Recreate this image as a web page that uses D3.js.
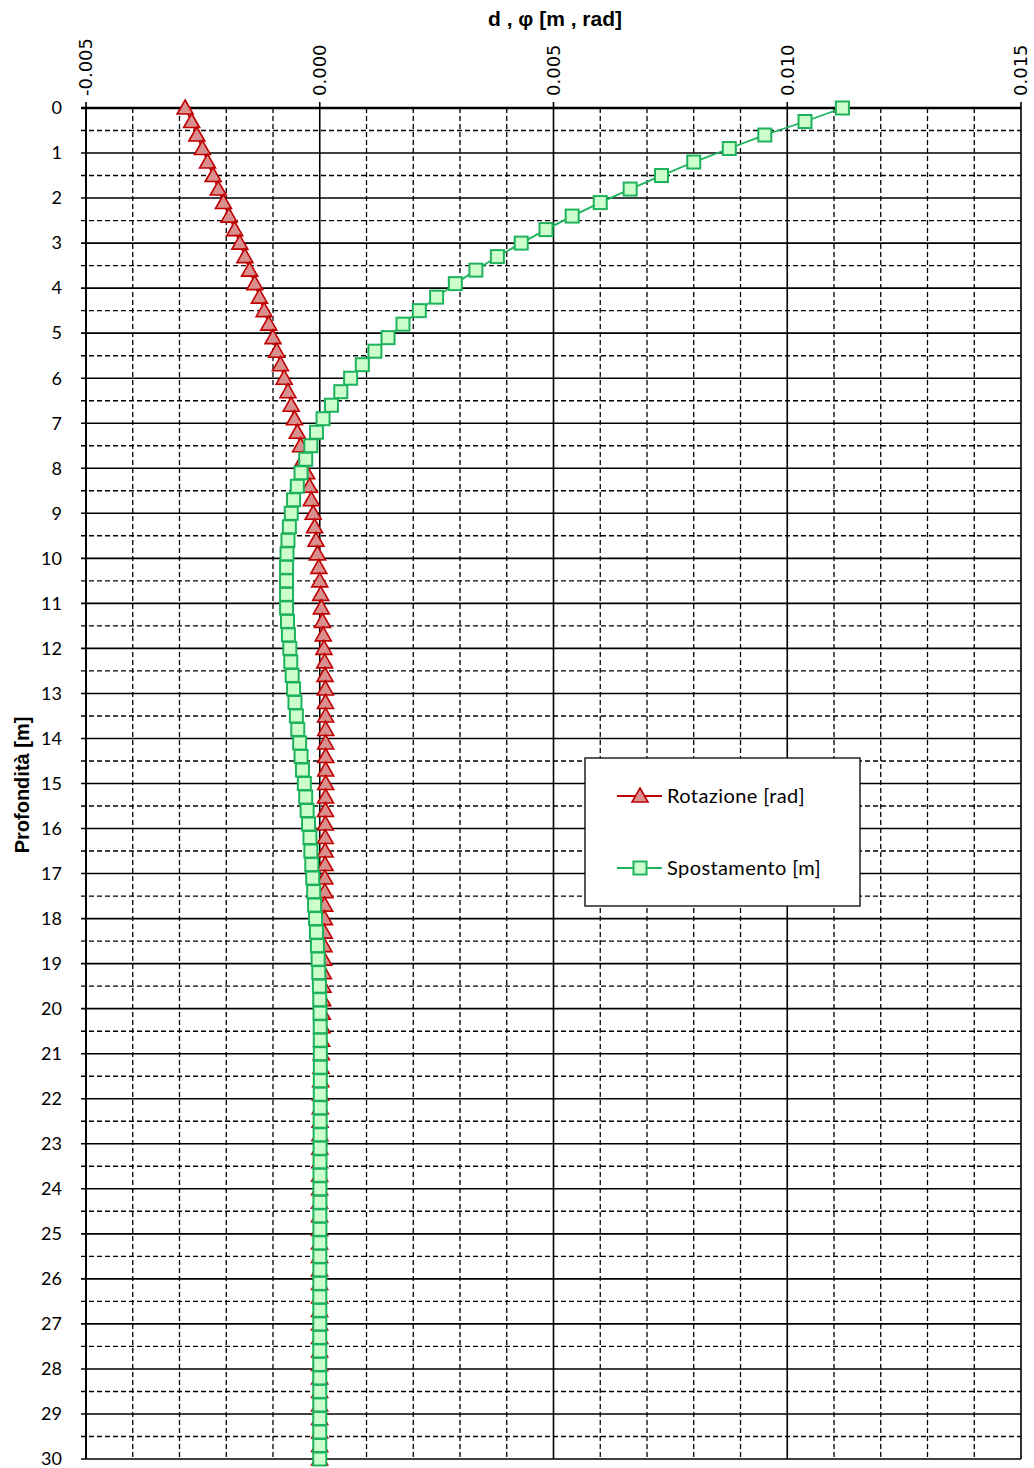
<!DOCTYPE html>
<html>
<head>
<meta charset="utf-8">
<script src="https://cdn.jsdelivr.net/npm/d3@7"></script>
<style>
  body { margin: 0; background: #fff; }
</style>
</head>
<body>
<script>
// profondità [m], un punto ogni 0.3 m
var profondita = [0, 0.3, 0.6, 0.9, 1.2, 1.5, 1.8, 2.1, 2.4, 2.7,
  3.0, 3.3, 3.6, 3.9, 4.2, 4.5, 4.8, 5.1, 5.4, 5.7,
  6.0, 6.3, 6.6, 6.9, 7.2, 7.5, 7.8, 8.1, 8.4, 8.7,
  9.0, 9.3, 9.6, 9.9, 10.2, 10.5, 10.8, 11.1, 11.4, 11.7,
  12.0, 12.3, 12.6, 12.9, 13.2, 13.5, 13.8, 14.1, 14.4, 14.7,
  15.0, 15.3, 15.6, 15.9, 16.2, 16.5, 16.8, 17.1, 17.4, 17.7,
  18.0, 18.3, 18.6, 18.9, 19.2, 19.5, 19.8, 20.1, 20.4, 20.7,
  21.0, 21.3, 21.6, 21.9, 22.2, 22.5, 22.8, 23.1, 23.4, 23.7,
  24.0, 24.3, 24.6, 24.9, 25.2, 25.5, 25.8, 26.1, 26.4, 26.7,
  27.0, 27.3, 27.6, 27.9, 28.2, 28.5, 28.8, 29.1, 29.4, 29.7, 30.0];

// Rotazione [rad]
var rotazione = [-0.00288, -0.00274, -0.00263, -0.00251, -0.00240, -0.00228, -0.00217, -0.00206, -0.00194, -0.00182,
  -0.00171, -0.00160, -0.00150, -0.00139, -0.00129, -0.00119, -0.00109, -0.00100, -0.00092, -0.00084,
  -0.00076, -0.00068, -0.00061, -0.00054, -0.00048, -0.00041, -0.00035, -0.00028, -0.00022, -0.00018,
  -0.00014, -0.00011, -0.00008, -0.00005, -0.00002, 0.00000, 0.00002, 0.000035, 0.00006, 0.000075,
  0.00009, 0.000105, 0.000113, 0.00012, 0.000122, 0.000125, 0.000127, 0.000127, 0.000127, 0.000127,
  0.000126, 0.000124, 0.000122, 0.00012, 0.000117, 0.000115, 0.000113, 0.00011, 0.000108, 0.000105,
  0.0001, 0.000095, 0.00009, 0.000085, 0.000078, 0.00007, 0.000062, 0.000055, 0.000047, 0.00004,
  0.000033, 0.000027, 0.000021, 0.000016, 0.000011, 0.000007, 0.000004, 0.000001, -0.000001, -0.000002,
  -0.000003, -0.000003, -0.000004, -0.000004, -0.000004, -0.000004, -0.000004, -0.000003, -0.000003, -0.000003,
  -0.000003, -0.000002, -0.000002, -0.000002, -0.000002, -0.000002, -0.000002, -0.000002, -0.000002, -0.000002, -0.000002];

// Spostamento [m]
var spostamento = [0.01118, 0.01038, 0.00952, 0.00876, 0.00800, 0.00731, 0.00664, 0.00600, 0.00540, 0.00484,
  0.00431, 0.00380, 0.00334, 0.00290, 0.00250, 0.00213, 0.00178, 0.00146, 0.00118, 0.00091,
  0.00066, 0.00045, 0.00025, 0.00007, -0.00007, -0.00019, -0.00030, -0.00040, -0.00048, -0.00056,
  -0.00061, -0.00065, -0.00068, -0.00070, -0.00071, -0.00071, -0.00071, -0.00071, -0.00069, -0.00067,
  -0.00064, -0.00062, -0.00059, -0.00056, -0.00053, -0.00050, -0.00047, -0.00043, -0.00040, -0.00037,
  -0.00033, -0.00030, -0.00027, -0.00024, -0.00021, -0.00019, -0.00017, -0.00015, -0.00013, -0.00011,
  -0.00009, -0.00007, -0.00005, -0.000035, -0.00002, -0.000008, 0.0, 0.000006, 0.00001, 0.000012,
  0.000013, 0.000013, 0.000012, 0.000011, 0.00001, 0.000009, 0.000008, 0.000007, 0.000006, 0.000005,
  0.000004, 0.000004, 0.000003, 0.000003, 0.000002, 0.000002, 0.000002, 0.000001, 0.000001, 0.000001,
  0.000001, 0, 0, 0, 0, 0, 0, 0, 0, 0, 0];

var ticksX = [-0.005, 0, 0.005, 0.010, 0.015];
var etichetteX = ["-0.005", "0.000", "0.005", "0.010", "0.015"];
var ticksY = [0, 1, 2, 3, 4, 5, 6, 7, 8, 9, 10, 11, 12, 13, 14, 15, 16, 17, 18, 19, 20,
  21, 22, 23, 24, 25, 26, 27, 28, 29, 30];

var serie = [
  { nome: "Rotazione [rad]", valori: rotazione, linea: "#c00000", riempimento: "#da8f8f", simbolo: "triangolo" },
  { nome: "Spostamento [m]", valori: spostamento, linea: "#1db35c", riempimento: "#ccffcc", simbolo: "quadrato" }
];

var width = 1034;
var height = 1468;

var margen = { arriba: 108, abajo: 9, izquierda: 86, derecha: 13 };

var escalaX = d3.scaleLinear()
  .domain([-0.005, 0.015])
  .range([margen.izquierda, width - margen.derecha]);

var escalaY = d3.scaleLinear()
  .domain([0, 30])
  .range([margen.arriba, height - margen.abajo]);

var svg = d3.select("body")
  .append("svg")
  .attr("width", width)
  .attr("height", height);

// griglia verticale: tratteggiata ogni 0.001, continua ogni 0.005
var lineeX = escalaX.ticks(20);
svg.append("g")
  .selectAll("line")
  .data(lineeX)
  .join("line")
  .attr("x1", d => escalaX(d))
  .attr("x2", d => escalaX(d))
  .attr("y1", (d, i) => i % 5 === 0 ? escalaY(0) - 6 : escalaY(0))
  .attr("y2", escalaY(30))
  .attr("stroke", "#000")
  .attr("stroke-width", (d, i) => i % 5 === 0 ? 1.6 : 1.3)
  .attr("stroke-dasharray", (d, i) => i % 5 === 0 ? null : "5,3");

// griglia orizzontale: continua ogni metro, tratteggiata a metà
var lineeY = escalaY.ticks(60);
svg.append("g")
  .selectAll("line")
  .data(lineeY)
  .join("line")
  .attr("x1", margen.izquierda - 5)
  .attr("x2", width - margen.derecha)
  .attr("y1", d => escalaY(d))
  .attr("y2", d => escalaY(d))
  .attr("stroke", "#000")
  .attr("stroke-width", d => d === 0 ? 2.4 : (d % 1 === 0 ? 1.6 : 1.4))
  .attr("stroke-dasharray", d => d % 1 === 0 ? null : "5,3");

// asse sinistro
svg.append("line")
  .attr("x1", margen.izquierda).attr("x2", margen.izquierda)
  .attr("y1", escalaY(0)).attr("y2", escalaY(30))
  .attr("stroke", "#000").attr("stroke-width", 1.8);

// etichette asse X (ruotate)
svg.append("g")
  .selectAll("text")
  .data(ticksX)
  .join("text")
  .attr("transform", d => "translate(" + escalaX(d) + "," + (escalaY(0) - 12) + ") rotate(-90)")
  .attr("dy", "0.36em")
  .attr("text-anchor", "start")
  .style("font-family", "'DejaVu Sans', Verdana, sans-serif")
  .style("font-size", "18px")
  .text((d, i) => etichetteX[i]);

// etichette asse Y
svg.append("g")
  .selectAll("text")
  .data(ticksY)
  .join("text")
  .attr("x", 62)
  .attr("y", d => escalaY(d))
  .attr("dy", "0.35em")
  .attr("text-anchor", "end")
  .style("font-family", "Lato, 'Open Sans', sans-serif")
  .style("font-size", "18px")
  .text(d => d);

// titoli
svg.append("text")
  .attr("x", 555)
  .attr("y", 26)
  .attr("text-anchor", "middle")
  .style("font-family", "'Liberation Sans', Arial, sans-serif")
  .style("font-weight", "bold")
  .style("font-size", "21px")
  .text("d , φ [m , rad]");

svg.append("text")
  .attr("transform", "translate(29,785) rotate(-90)")
  .attr("text-anchor", "middle")
  .style("font-family", "'Liberation Sans', Arial, sans-serif")
  .style("font-weight", "bold")
  .style("font-size", "20px")
  .text("Profondità [m]");

var linea = d3.line()
  .x(d => escalaX(d.v))
  .y(d => escalaY(d.z));

function pintarMarcador(sel, s) {
  if (s.simbolo === "triangolo") {
    sel.append("path")
      .attr("d", "M0,-8L8,6L-8,6Z")
      .attr("fill", s.riempimento)
      .attr("stroke", s.linea)
      .attr("stroke-width", 1.6);
  } else {
    sel.append("rect")
      .attr("x", -6.5).attr("y", -6.5)
      .attr("width", 13).attr("height", 13)
      .attr("fill", s.riempimento)
      .attr("stroke", s.linea)
      .attr("stroke-width", 2);
  }
}

serie.forEach(function (s) {
  var punti = profondita.map((z, i) => ({ z: z, v: s.valori[i] }));
  var g = svg.append("g");
  g.append("path")
    .datum(punti)
    .attr("d", linea)
    .attr("fill", "none")
    .attr("stroke", s.linea)
    .attr("stroke-width", 1.8);
  g.selectAll("g.marcador")
    .data(punti)
    .join("g")
    .attr("class", "marcador")
    .attr("transform", d => "translate(" + escalaX(d.v) + "," + escalaY(d.z) + ")")
    .each(function () { pintarMarcador(d3.select(this), s); });
});

// legenda
var leyenda = svg.append("g").attr("transform", "translate(585,758)");
leyenda.append("rect")
  .attr("width", 275).attr("height", 148)
  .attr("fill", "#fff")
  .attr("stroke", "#000")
  .attr("stroke-width", 1.3);

serie.forEach(function (s, i) {
  var yy = 38 + i * 72;
  var fila = leyenda.append("g").attr("transform", "translate(0," + yy + ")");
  fila.append("line")
    .attr("x1", 32).attr("x2", 77)
    .attr("stroke", s.linea).attr("stroke-width", 1.8);
  pintarMarcador(fila.append("g").attr("transform", "translate(55,0)"), s);
  fila.append("text")
    .attr("x", 82)
    .attr("dy", "0.35em")
    .style("font-family", "Lato, 'Open Sans', sans-serif")
    .style("font-size", "20px")
    .style("letter-spacing", "0.4px")
    .text(s.nome);
});
</script>
</body>
</html>
